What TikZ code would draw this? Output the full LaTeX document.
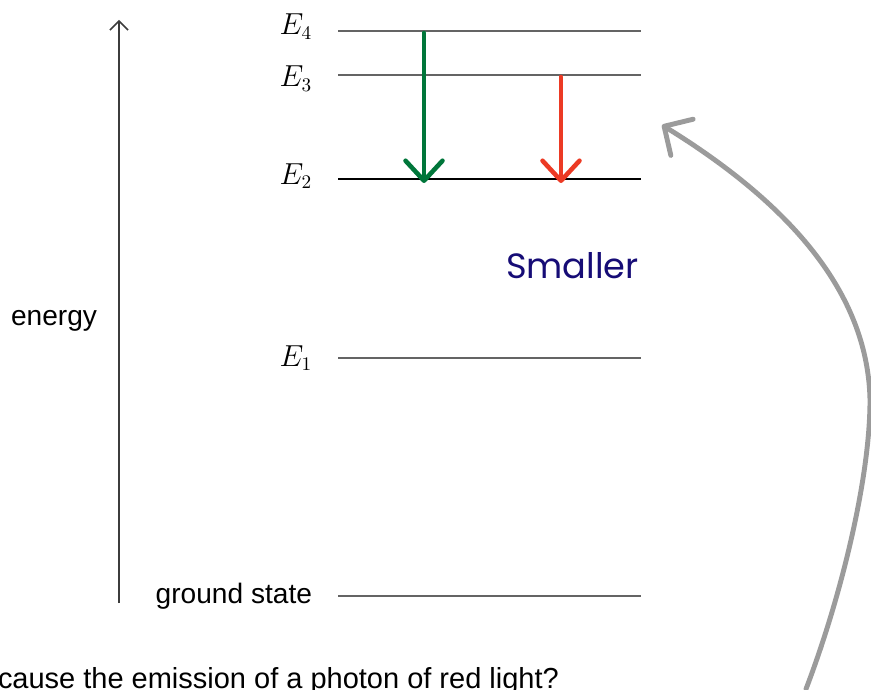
\documentclass[tikz,border=0pt]{standalone}
\usepackage[no-math]{fontspec}
\setmainfont{Liberation Sans}
\newfontfamily\handfont{Poppins}
\usepackage{tikz}
\usetikzlibrary{arrows.meta,positioning}
\definecolor{ink}{RGB}{60,60,60}
\definecolor{levelgray}{RGB}{100,100,100}
\definecolor{greenline}{RGB}{0,118,58}
\definecolor{redline}{RGB}{236,58,36}
\definecolor{navyink}{RGB}{22,12,118}
\definecolor{notegray}{RGB}{155,155,155}

\begin{document}
\begin{tikzpicture}[
  x=0.02cm,y=-0.02cm,
  every node/.style={inner sep=0pt,outer sep=0pt},
  level/.style={draw=levelgray,line width=1.3pt},
  lvllabel/.style={anchor=base east,font=\fontsize{16}{19}\selectfont},
  words/.style={font=\fontsize{16}{19}\selectfont,text=black},
  drop/.style={line width=2.6pt,line cap=round,-{Straight Barb[length=0.4cm,width=0.74cm,line width=2.6pt,round]}},
  axis/.style={draw=ink,line width=0.9pt,-{Straight Barb[length=0.18cm,width=0.36cm]}},
  hint/.style={draw=notegray,line width=2.8pt,line cap=round,-{Straight Barb[length=0.42cm,width=0.85cm,line width=2.8pt,round]}}
]
\useasboundingbox (0,0) rectangle (871,689);

% energy levels
\coordinate (g0) at (338,596);  \coordinate (g1) at (641,596);
\coordinate (e1a) at (338,358); \coordinate (e1b) at (641,358);
\coordinate (e2a) at (338,179); \coordinate (e2b) at (641,179);
\coordinate (e3a) at (338,75);  \coordinate (e3b) at (641,75);
\coordinate (e4a) at (338,31);  \coordinate (e4b) at (641,31);
\draw[level] (g0) -- (g1);
\draw[level] (e1a) -- (e1b);
\draw[level,draw=black] (e2a) -- (e2b);
\draw[level] (e3a) -- (e3b);
\draw[level] (e4a) -- (e4b);

\node[lvllabel] (labE4) at (312,35) {$E_4$};
\node[lvllabel] (labE3) at (312,87) {$E_3$};
\node[lvllabel] (labE2) at (312,184) {$E_2$};
\node[lvllabel] (labE1) at (312,366) {$E_1$};
\node[words,anchor=base east] (ground) at (312,603) {ground state};

% energy axis
\coordinate (axbot) at (119,603);
\coordinate (axtop) at (119,20);
\draw[axis] (axbot) -- (axtop);
\node[words,anchor=base east] (energy) at (97,325) {energy};

% transitions
\coordinate (gtop) at (424,33);  \coordinate (gend) at (424,183);
\coordinate (rtop) at (561,77);  \coordinate (rend) at (561,183);
\draw[drop,greenline] (gtop) -- (gend);
\draw[drop,redline] (rtop) -- (rend);

\node[anchor=base west,text=navyink,font=\handfont\fontsize{20}{24}\selectfont] (smaller) at (506,278) {Smaller};

% pointer
\coordinate (pstart) at (806,689);
\coordinate (ptip) at (662,125);
\draw[hint] (pstart) .. controls (840,600) and (870,480) .. (870,400)
  .. controls (868,300) and (800,210) .. (ptip);

\node[anchor=base west,font=\fontsize{16.5}{19}\selectfont] (question) at (-2,688) {cause the emission of a photon of red light?};
\end{tikzpicture}
\end{document}
